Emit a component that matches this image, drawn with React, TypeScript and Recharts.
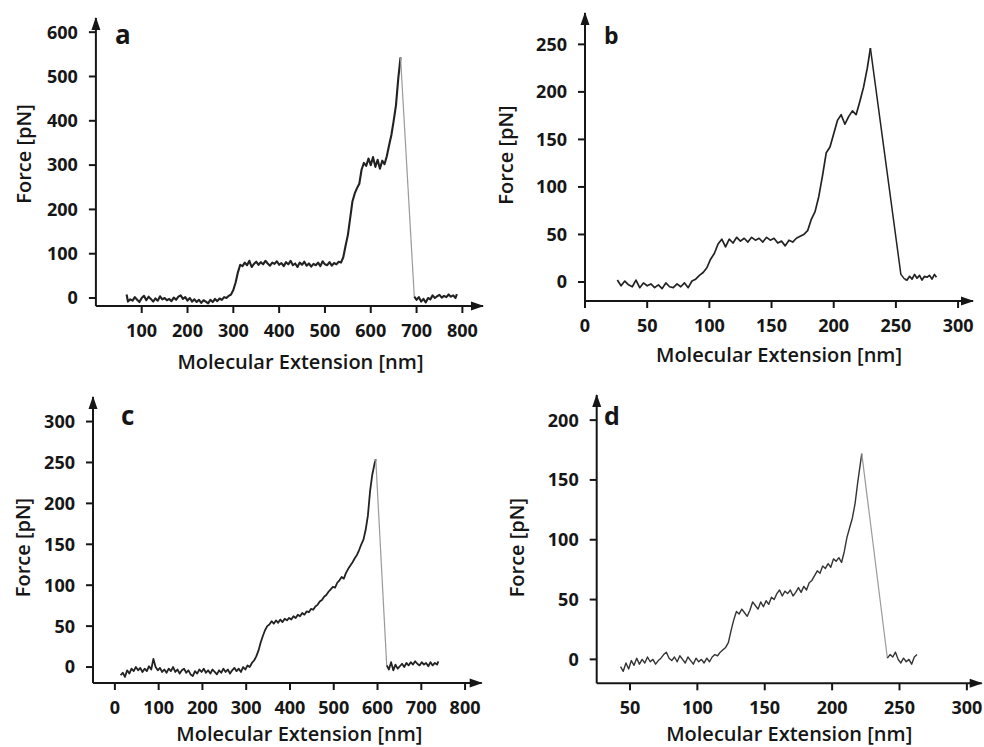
import React from 'react';
import { LineChart, Line, XAxis, YAxis, ReferenceDot, Label } from 'recharts';

// ---- panel a ----
const aExt = [67, 70, 75, 80, 85, 90, 95, 100, 105, 110, 115, 120, 125, 130, 135, 140, 145, 150, 155, 160, 165, 170, 175, 180, 185, 190, 195, 200, 205, 210, 215, 220, 225, 230, 235, 240, 245, 250, 255, 260, 265, 270, 275, 280, 285, 290, 295, 300, 305, 310, 315, 320, 325, 330, 335, 340, 345, 350, 355, 360, 365, 370, 375, 380, 385, 390, 395, 400, 405, 410, 415, 420, 425, 430, 435, 440, 445, 450, 455, 460, 465, 470, 475, 480, 485, 490, 495, 500, 505, 510, 515, 520, 525, 530, 535, 540, 545, 550, 555, 560, 565, 570, 575, 580, 585, 590, 595, 600, 605, 610, 615, 620, 625, 630, 635, 640, 645, 650, 655, 660, 665];
const aForce = [
  8, -8, -3, -6, 2, -4, -9, 0, 5, -5,
  3, -2, -8, -1, -6, 4, -3, 0, -5, -2,
  -7, 1, -4, 3, 6, -2, 2, -6, 0, -8,
  -3, -9, -4, -11, -5, -8, -12, -4, -9, -2,
  -7, -1, -4, 2, 0, 5, 8, 18, 35, 58,
  75, 72, 80, 74, 84, 70, 77, 82, 75, 81,
  76, 84, 78, 73, 80, 77, 83, 75, 79, 72,
  81, 76, 84, 74, 78, 70, 80, 75, 82, 73,
  78, 71, 77, 74, 80, 72, 83, 76, 74, 81,
  73, 79, 76, 82, 80, 92, 118, 142, 180, 218,
  236, 248, 258, 290, 305, 298, 315, 300, 318, 296,
  312, 292, 310, 302, 320, 345, 368, 400, 435, 495,
  543,
];
const aDropExt = [665, 695];
const aDropForce = [543, 3];
const aTailExt = [695, 700, 705, 710, 715, 720, 725, 730, 735, 740, 745, 750, 755, 760, 765, 770, 775, 780, 785, 788];
const aTailForce = [3, -4, 2, -8, -2, -10, 0, -3, 6, 0, 4, 7, 1, 5, 2, 8, 3, 6, 0, 9];
const aXTicks = [100, 200, 300, 400, 500, 600, 700, 800];
const aYTicks = [0, 100, 200, 300, 400, 500, 600];

// ---- panel b ----
const bExt = [26, 29, 32, 35, 38, 41, 44, 47, 50, 53, 56, 59, 62, 65, 68, 71, 74, 77, 80, 83, 86, 89, 92, 95, 98, 101, 104, 107, 110, 113, 116, 119, 122, 125, 128, 131, 134, 137, 140, 143, 146, 149, 152, 155, 158, 161, 164, 167, 170, 173, 176, 179, 182, 185, 188, 191, 194, 197, 200, 203, 206, 209, 212, 215, 218, 221, 224, 227, 229.5];
const bForce = [
  2, -4, 1, -3, -5, 2, -6, -1, -4, -2,
  -6, -3, -7, -1, -5, -6, -2, -5, -1, -6,
  1, 3, 7, 10, 15, 24, 30, 40, 45, 37,
  45, 41, 47, 43, 46, 42, 47, 44, 46, 42,
  47, 44, 46, 41, 43, 38, 44, 42, 46, 48,
  50, 54, 66, 74, 90, 112, 136, 142, 156, 170,
  176, 166, 174, 180, 176, 190, 205, 225, 246,
];
const bDropExt = [229.5, 254, 257];
const bDropForce = [246, 8, 3];
const bTailExt = [257, 259, 261, 263, 265, 267, 269, 271, 273, 275, 277, 279, 281, 282.6];
const bTailForce = [3, 2, 6, 3, 8, 4, 7, 2, 6, 5, 7, 3, 8, 5];
const bXTicks = [0, 50, 100, 150, 200, 250, 300];
const bYTicks = [0, 50, 100, 150, 200, 250];

// ---- panel c ----
const cExt = [13, 18, 23, 28, 33, 38, 43, 48, 53, 58, 63, 68, 73, 78, 83, 88, 93, 98, 103, 108, 113, 118, 123, 128, 133, 138, 143, 148, 153, 158, 163, 168, 173, 178, 183, 188, 193, 198, 203, 208, 213, 218, 223, 228, 233, 238, 243, 248, 253, 258, 263, 268, 273, 278, 283, 288, 293, 298, 303, 308, 313, 318, 323, 328, 333, 338, 343, 348, 353, 358, 363, 368, 373, 378, 383, 388, 393, 398, 403, 408, 413, 418, 423, 428, 433, 438, 443, 448, 453, 458, 463, 468, 473, 478, 483, 488, 493, 498, 503, 508, 513, 518, 523, 528, 533, 538, 543, 548, 553, 558, 563, 568, 573, 578, 583, 588, 593, 596];
const cForce = [
  -10, -7, -12, -4, -8, -2, -5, 0, -4, -1,
  -6, -2, -5, 1, -3, 10, 0, -4, -1, -6,
  -3, -7, -2, -5, 0, -6, -3, -8, -4, -2,
  -7, -4, -9, -11, -5, -8, -3, -6, -2, -7,
  -4, -8, -3, -6, -9, -4, -7, -2, -6, -3,
  -8, -4, -1, -5, -2, -6, 0, -3, 2, 0,
  5, 8, 13, 20, 30, 38, 45, 50, 52, 56,
  53, 57, 54, 58, 55, 59, 57, 60, 58, 62,
  60, 64, 62, 66, 64, 68, 67, 71, 70, 74,
  76, 80, 82, 86, 88, 92, 95, 98, 97, 103,
  106, 110, 108, 115, 120, 124, 128, 133, 137, 143,
  150, 156, 168, 185, 215, 235, 248, 254,
];
const cDropExt = [596, 621];
const cDropForce = [254, 2];
const cTailExt = [621, 626, 631, 636, 641, 646, 651, 656, 661, 666, 671, 676, 681, 686, 691, 696, 701, 706, 711, 716, 721, 726, 731, 736, 739];
const cTailForce = [2, -3, 6, -4, 3, -2, 1, 4, 0, 5, 2, 6, 3, 7, 4, 2, 6, 3, 5, 1, 6, 2, 5, 3, 7];
const cXTicks = [0, 100, 200, 300, 400, 500, 600, 700, 800];
const cYTicks = [0, 50, 100, 150, 200, 250, 300];

// ---- panel d ----
const dExt = [43, 45, 47, 49, 51, 53, 55, 57, 59, 61, 63, 65, 67, 69, 71, 73, 75, 77, 79, 81, 83, 85, 87, 89, 91, 93, 95, 97, 99, 101, 103, 105, 107, 109, 111, 113, 115, 117, 119, 121, 123, 125, 127, 129, 131, 133, 135, 137, 139, 141, 143, 145, 147, 149, 151, 153, 155, 157, 159, 161, 163, 165, 167, 169, 171, 173, 175, 177, 179, 181, 183, 185, 187, 189, 191, 193, 195, 197, 199, 201, 203, 205, 207, 209, 211, 213, 215, 217, 219, 222];
const dForce = [
  -6, -10, -3, -8, -1, -5, 1, -4, 0, -3,
  2, -2, 0, -4, -1, 1, 4, 6, 1, -1,
  2, -2, 3, 0, -3, 2, -1, -4, 1, -2,
  0, -3, 1, -2, 2, 4, 3, 6, 8, 10,
  14, 24, 33, 40, 38, 42, 39, 36, 41, 48,
  45, 42, 48, 44, 49, 46, 52, 50, 55, 58,
  53, 57, 55, 58, 53, 56, 60, 56, 61, 58,
  64, 66, 70, 74, 72, 78, 76, 80, 77, 84,
  82, 85, 81, 90, 102, 110, 118, 130, 148, 172,
];
const dDropExt = [222, 241];
const dDropForce = [172, 1];
const dTailExt = [241, 243, 245, 247, 249, 251, 253, 255, 257, 259, 261, 263];
const dTailForce = [1, 4, 2, 6, 0, -3, 1, -2, 0, -4, 2, 4];
const dXTicks = [50, 100, 150, 200, 250, 300];
const dYTicks = [0, 50, 100, 150, 200];

const zip = (xs: number[], ys: number[]) => xs.map((x, i) => ({ x, y: ys[i] }));

const FONT = '"Open Sans", "DejaVu Sans", sans-serif';
const INK = '#161616';
const TRACE = '#222';
const DROP = '#9a9a9a';

const ArrowX = (p: any) => <path d={`M${p.cx + 1},${p.cy} l-13,-4.5 l0,9 z`} fill={INK} />;
const ArrowY = (p: any) => <path d={`M${p.cx},${p.cy - 1} l-4.5,13 l9,0 z`} fill={INK} />;

const panels = [
  {
    letter: 'a', left: 0, top: 0, width: 492, height: 380,
    margin: { top: 18, right: 9, bottom: 4, left: 15.9 }, xAxisHeight: 70,
    xDomain: [0, 845], yDomain: [-18, 632], xTicks: aXTicks, yTicks: aYTicks,
    letterX: 115, letterY: 44, letterSize: 26,
    xLabelDx: 11, xLabelOffset: 7, yLabelDx: -32, yLabelDy: -8,
    segments: [
      { data: zip(aExt, aForce), color: TRACE, width: 2.1 },
      { data: zip(aDropExt, aDropForce), color: DROP, width: 1.2 },
      { data: zip(aTailExt, aTailForce), color: TRACE, width: 2.1 },
    ],
  },
  {
    letter: 'b', left: 492, top: 0, width: 492, height: 380,
    margin: { top: 13, right: 11, bottom: 9, left: 13 }, xAxisHeight: 70,
    xDomain: [0, 312], yDomain: [-20, 283], xTicks: bXTicks, yTicks: bYTicks,
    letterX: 112, letterY: 44, letterSize: 23,
    xLabelDx: 0, xLabelOffset: 9, yLabelDx: -39, yLabelDy: -2,
    segments: [
      { data: zip(bExt, bForce), color: TRACE, width: 1.7 },
      { data: zip(bDropExt, bDropForce), color: TRACE, width: 1.5 },
      { data: zip(bTailExt, bTailForce), color: TRACE, width: 1.7 },
    ],
  },
  {
    letter: 'c', left: 0, top: 375, width: 492, height: 372,
    margin: { top: 22, right: 10.3, bottom: 4, left: 13 }, xAxisHeight: 60,
    xDomain: [-50, 838], yDomain: [-19.5, 330], xTicks: cXTicks, yTicks: cYTicks,
    letterX: 121, letterY: 50, letterSize: 26,
    xLabelDx: 12, xLabelOffset: 2, yLabelDx: -30.5, yLabelDy: 7.5,
    segments: [
      { data: zip(cExt, cForce), color: TRACE, width: 1.8 },
      { data: zip(cDropExt, cDropForce), color: DROP, width: 1.2 },
      { data: zip(cTailExt, cTailForce), color: TRACE, width: 1.8 },
    ],
  },
  {
    letter: 'd', left: 492, top: 375, width: 492, height: 372,
    margin: { top: 20, right: 2.3, bottom: 3.7, left: 24.7 }, xAxisHeight: 60,
    xDomain: [25.3, 311], yDomain: [-20, 221], xTicks: dXTicks, yTicks: dYTicks,
    letterX: 112, letterY: 50, letterSize: 25,
    xLabelDx: 0, xLabelOffset: 2, yLabelDx: -40, yLabelDy: 8.5,
    segments: [
      { data: zip(dExt, dForce), color: '#333', width: 1.4 },
      { data: zip(dDropExt, dDropForce), color: DROP, width: 1.2 },
      { data: zip(dTailExt, dTailForce), color: '#333', width: 1.4 },
    ],
  },
];

function Panel({ cfg }: { cfg: any }) {
  const tickStyle = { fill: INK, fontSize: 18, fontWeight: 700, fontFamily: FONT };
  return (
    <div style={{ position: 'absolute', left: cfg.left, top: cfg.top }}>
      <LineChart width={cfg.width} height={cfg.height} margin={cfg.margin}>
        <XAxis
          type="number"
          dataKey="x"
          domain={cfg.xDomain}
          ticks={cfg.xTicks}
          interval={0}
          height={cfg.xAxisHeight}
          tickSize={7}
          tickMargin={11}
          axisLine={{ stroke: INK, strokeWidth: 2 }}
          tickLine={{ stroke: INK, strokeWidth: 2 }}
          tick={tickStyle}
        >
          <Label
            value="Molecular Extension [nm]"
            position="insideBottom"
            offset={cfg.xLabelOffset}
            dx={cfg.xLabelDx}
            fill={INK}
            fontSize={20}
            fontWeight={600}
            fontFamily={FONT}
          />
        </XAxis>
        <YAxis
          type="number"
          domain={cfg.yDomain}
          ticks={cfg.yTicks}
          interval={0}
          width={80}
          tickSize={7}
          tickMargin={11}
          axisLine={{ stroke: INK, strokeWidth: 2 }}
          tickLine={{ stroke: INK, strokeWidth: 2 }}
          tick={tickStyle}
        >
          <Label
            value="Force [pN]"
            angle={-90}
            position="center"
            dx={cfg.yLabelDx}
            dy={cfg.yLabelDy}
            fill={INK}
            fontSize={20}
            fontWeight={600}
            fontFamily={FONT}
          />
        </YAxis>
        {cfg.segments.map((s: any, i: number) => (
          <Line
            key={i}
            data={s.data}
            dataKey="y"
            type="linear"
            dot={false}
            activeDot={false}
            stroke={s.color}
            strokeWidth={s.width}
            strokeLinejoin="round"
            isAnimationActive={false}
          />
        ))}
        <ReferenceDot x={cfg.xDomain[1]} y={cfg.yDomain[0]} ifOverflow="visible" shape={ArrowX} />
        <ReferenceDot x={cfg.xDomain[0]} y={cfg.yDomain[1]} ifOverflow="visible" shape={ArrowY} />
        <text x={cfg.letterX} y={cfg.letterY} fill={INK} fontSize={cfg.letterSize} fontWeight={700} fontFamily={FONT}>
          {cfg.letter}
        </text>
      </LineChart>
    </div>
  );
}

export default function App() {
  return (
    <div style={{ position: 'absolute', left: 0, top: 0, width: 984, height: 747, background: '#fff' }}>
      {panels.map((p) => (
        <Panel key={p.letter} cfg={p} />
      ))}
    </div>
  );
}
